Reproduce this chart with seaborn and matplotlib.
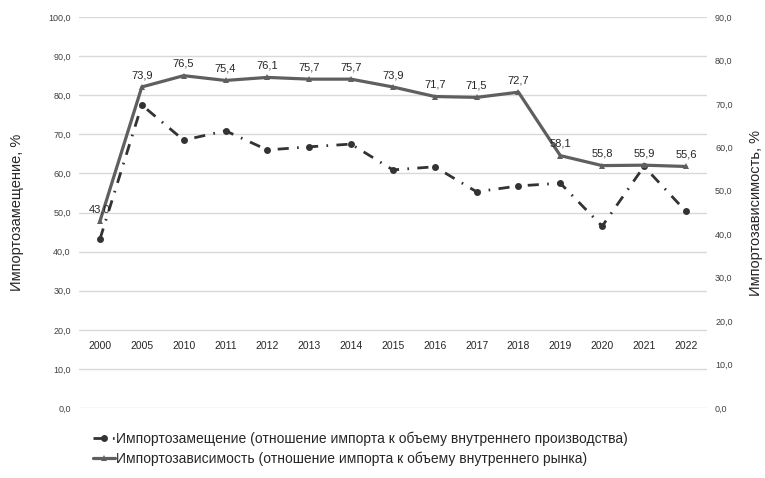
import numpy as np
import pandas as pd
import matplotlib
matplotlib.use('Agg')
import matplotlib.pyplot as plt
from matplotlib.ticker import FuncFormatter, MultipleLocator
import seaborn as sns

years = ['2000', '2005', '2010', '2011', '2012', '2013', '2014', '2015',
         '2016', '2017', '2018', '2019', '2020', '2021', '2022']
# импортозамещение, левая ось
substitution = [43.2, 77.5, 68.5, 70.9, 66.0, 66.8, 67.5, 60.9,
                61.7, 55.3, 56.8, 57.5, 46.5, 61.8, 50.3]
# импортозависимость, правая ось
dependence = [43.0, 73.9, 76.5, 75.4, 76.1, 75.7, 75.7, 73.9,
              71.7, 71.5, 72.7, 58.1, 55.8, 55.9, 55.6]

name_sub = 'Импортозамещение (отношение импорта к объему внутреннего производства)'
name_dep = 'Импортозависимость (отношение импорта к объему внутреннего рынка)'

df = pd.DataFrame({'pos': np.arange(len(years)), 'year': years,
                   'sub': substitution, 'dep': dependence})

sns.set_style('white')
plt.rcParams['font.family'] = ['Liberation Sans', 'DejaVu Sans']

fig = plt.figure(figsize=(7.65, 4.78), dpi=100)
ax = fig.add_axes([0.1033, 0.1464, 0.8206, 0.818])
ax2 = ax.twinx()

comma = FuncFormatter(lambda v, p: f'{v:.1f}'.replace('.', ','))

# левая ось
ax.set_ylim(0, 100)
ax.yaxis.set_major_locator(MultipleLocator(10))
ax.yaxis.set_major_formatter(comma)
ax.grid(axis='y', color='#d9d9d9', lw=1)
ax.set_axisbelow(True)
ax.tick_params(axis='y', labelsize=6.5, length=0, pad=6, colors='#404040')

sns.lineplot(data=df, x='pos', y='sub', ax=ax, color='#333333', lw=2,
             linestyle=(0, (4, 3, 0.6, 3)), marker='o', markersize=5,
             markeredgewidth=0, label=name_sub, legend=False)

# правая ось
ax2.set_ylim(0, 90)
ax2.yaxis.set_major_locator(MultipleLocator(10))
ax2.yaxis.set_major_formatter(comma)
ax2.tick_params(axis='y', labelsize=6.5, length=0, pad=6, colors='#404040')

sns.lineplot(data=df, x='pos', y='dep', ax=ax2, color='#5f5f5f', lw=2.3,
             marker='^', markersize=5, markeredgewidth=0,
             label=name_dep, legend=False)

for i, v in enumerate(dependence):
    ax2.annotate(f'{v:.1f}'.replace('.', ','), (i, v), xytext=(0, 5),
                 textcoords='offset points', ha='center', va='bottom',
                 fontsize=8, color='#262626')

# ось X проходит на уровне 20
ax.set_xlim(-0.5, len(years) - 0.5)
ax.set_xticks(df['pos'], years)
ax.spines['bottom'].set_position(('data', 20))
ax.tick_params(axis='x', labelsize=7.5, length=0, pad=8, colors='#262626')

for a in (ax, ax2):
    for s in a.spines.values():
        s.set_visible(False)
    a.set_xlabel('')

ax.set_ylabel('Импортозамещение, %', fontsize=10.5, color='#262626')
ax.yaxis.set_label_coords(-0.087, 0.5)
ax2.set_ylabel('Импортозависимость, %', fontsize=10.5, color='#262626',
               rotation=90)
ax2.yaxis.set_label_coords(1.068, 0.5)

h1, l1 = ax.get_legend_handles_labels()
h2, l2 = ax2.get_legend_handles_labels()
fig.legend(h1 + h2, l1 + l2, loc='lower left', bbox_to_anchor=(0.105, 0.0),
           frameon=False, fontsize=10, handlelength=1.6, handletextpad=0.1,
           labelspacing=0.35, labelcolor='#262626')

fig.savefig('out.png', dpi=100)
